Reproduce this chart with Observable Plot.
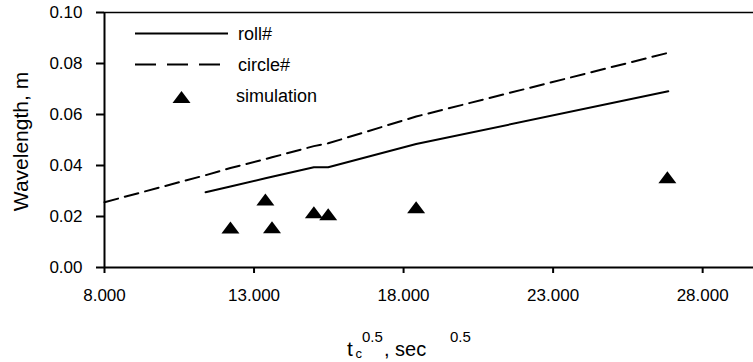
<!DOCTYPE html>
<html><head><meta charset="utf-8">
<script src="https://cdn.jsdelivr.net/npm/d3@7"></script>
<script src="https://cdn.jsdelivr.net/npm/@observablehq/plot@0.6"></script>
<style>
body{margin:0;background:#fff;}
#wrap{position:relative;width:753px;height:362px;}
</style></head><body><div id="wrap"></div>
<script>
// tick labels
const xTicks = [8, 13, 18, 23, 28];
const yTicks = [0, 0.02, 0.04, 0.06, 0.08, 0.10];
// series: roll#
const rollX = [11.38, 12.21, 13.38, 13.6, 15.0, 15.48, 18.42, 26.85];
const rollY = [0.0295, 0.0318, 0.0350, 0.0356, 0.0393, 0.0393, 0.0484, 0.0691];
// series: circle#
const circleX = [8.0, 11.38, 12.21, 13.38, 13.6, 15.0, 15.48, 18.42, 26.85];
const circleY = [0.0256, 0.0362, 0.0390, 0.0425, 0.0432, 0.0476, 0.0487, 0.0592, 0.0842];
// series: simulation
const simX = [12.21, 13.38, 13.6, 15.0, 15.48, 18.42, 26.82];
const simY = [0.0157, 0.0267, 0.0158, 0.0217, 0.0209, 0.0236, 0.0354];
const seriesNames = ["roll#", "circle#", "simulation"];

const roll = rollX.map((x, i) => ({x, y: rollY[i]}));
const circle = circleX.map((x, i) => ({x, y: circleY[i]}));
const sim = simX.map((x, i) => ({x, y: simY[i]}));

const tri = {
  draw(ctx, size) {
    const r = Math.sqrt(size / Math.PI);
    const w = r, h = r * 0.667;
    ctx.moveTo(0, -h);
    ctx.lineTo(w, h);
    ctx.lineTo(-w, h);
    ctx.closePath();
  }
};

const FONT = "Liberation Sans, Arial, sans-serif";
const chart = Plot.plot({
  width: 753, height: 362,
  marginLeft: 104, marginRight: 0, marginTop: 12, marginBottom: 95,
  style: {fontFamily: FONT, fontSize: "17px", color: "#000", background: "#fff", overflow: "visible"},
  x: {domain: [8, 29.7]},
  y: {domain: [0, 0.1]},
  marks: [
    Plot.ruleY([0.1], {stroke: "#000", strokeWidth: 1.5}),
    Plot.axisX({ticks: xTicks, tickFormat: d => d.toFixed(3), tickSize: 6, tickPadding: 15, strokeWidth: 2, label: null, fontSize: 17}),
    Plot.axisY({ticks: yTicks, tickFormat: d => d.toFixed(2), tickSize: 8, tickPadding: 14, strokeWidth: 2, label: null, fontSize: 17}),
    Plot.ruleX([8], {stroke: "#000", strokeWidth: 2}),
    Plot.ruleY([0], {stroke: "#000", strokeWidth: 2}),
    Plot.line(circle, {x: "x", y: "y", stroke: "#000", strokeWidth: 2, strokeDasharray: "14,7"}),
    Plot.line(roll, {x: "x", y: "y", stroke: "#000", strokeWidth: 2}),
    Plot.dot(sim, {x: "x", y: "y", symbol: tri, r: 9, fill: "#000", stroke: "none"})
  ]
});
document.getElementById("wrap").appendChild(chart);

const svg = d3.select(chart);
// y axis title
svg.append("text").attr("transform", "translate(20,141.5) rotate(-90)")
  .attr("text-anchor", "middle").attr("dominant-baseline", "central")
  .attr("font-family", FONT).attr("font-size", 21).attr("fill", "#000").text("Wavelength, m");
// x axis title: t_c^0.5, sec^0.5
const xt = svg.append("g").attr("font-family", FONT).attr("fill", "#000").attr("text-anchor", "start");
xt.append("text").attr("x", 347).attr("y", 356).attr("font-size", 21).text("t");
xt.append("text").attr("x", 355.5).attr("y", 358).attr("font-size", 13).text("c");
xt.append("text").attr("x", 362).attr("y", 342).attr("font-size", 15).text("0.5");
xt.append("text").attr("x", 384).attr("y", 356).attr("font-size", 20).text(", sec");
xt.append("text").attr("x", 450).attr("y", 342).attr("font-size", 15).text("0.5");
// legend
const lg = svg.append("g").attr("font-family", FONT).attr("font-size", 18).attr("fill", "#000").attr("text-anchor", "start");
lg.append("line").attr("x1", 135).attr("x2", 228).attr("y1", 33.5).attr("y2", 33.5).attr("stroke", "#000").attr("stroke-width", 2);
lg.append("line").attr("x1", 135).attr("x2", 222).attr("y1", 64.5).attr("y2", 64.5).attr("stroke", "#000").attr("stroke-width", 2).attr("stroke-dasharray", "21,11");
lg.append("path").attr("transform", "translate(181.5,97)").attr("d", "M0,-6L9,6L-9,6Z").attr("fill", "#000");
lg.append("text").attr("x", 238).attr("y", 33.5).attr("dominant-baseline", "central").text(seriesNames[0]);
lg.append("text").attr("x", 238).attr("y", 64.5).attr("dominant-baseline", "central").text(seriesNames[1]);
lg.append("text").attr("x", 236).attr("y", 96).attr("dominant-baseline", "central").text(seriesNames[2]);
</script></body></html>
